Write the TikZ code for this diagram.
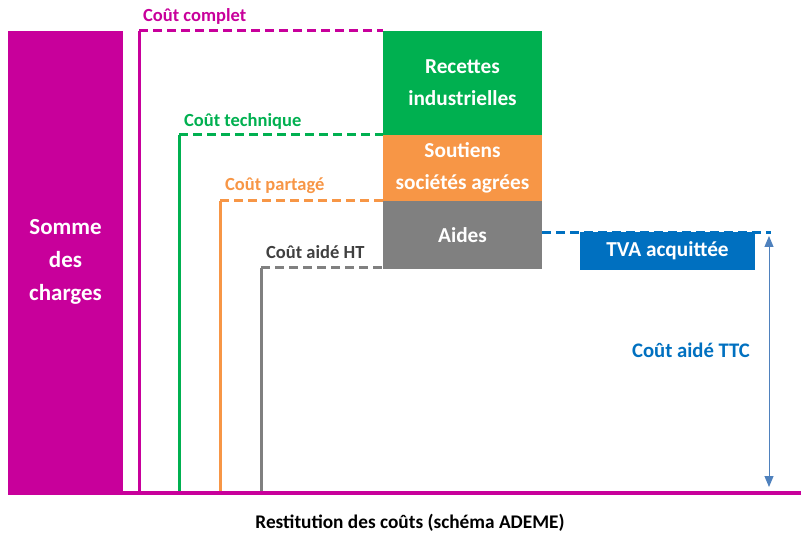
\documentclass[tikz,border=0pt]{standalone}
\usepackage{fontspec}
\setmainfont{Carlito}
\usepackage{tikz}
\usetikzlibrary{positioning}
\usetikzlibrary{arrows.meta}

\definecolor{magentaA}{HTML}{C8009B}
\definecolor{greenA}{HTML}{00B050}
\definecolor{orangeA}{HTML}{F79646}
\definecolor{grayA}{HTML}{808080}
\definecolor{blueA}{HTML}{0070C0}
\definecolor{arrowB}{HTML}{4F81BD}
\definecolor{darkA}{HTML}{404040}

\tikzset{
  costbox/.style={anchor=north west, inner sep=0pt, outer sep=0pt, text=white,
    align=center, font=\bfseries\fontsize{21.3}{32}\selectfont},
  costline/.style={line width=3pt},
  costdash/.style={line width=3pt, dash pattern=on 9pt off 5pt},
  costlabel/.style={anchor=west, inner sep=0pt, font=\bfseries\fontsize{18.5}{20}\selectfont}
}

\begin{document}
\begin{tikzpicture}[x=1pt, y=-1pt]
\useasboundingbox (0,0) rectangle (801,537);

% somme des charges
\node[costbox, fill=magentaA, minimum width=115pt, minimum height=462pt,
  font=\bfseries\fontsize{23}{33}\selectfont] (somme) at (8,31) {Somme\\des\\charges};

% boites empilees
\node[costbox, fill=greenA, minimum width=159pt, minimum height=104pt] (recettes) at (383,31)
  {Recettes\\industrielles};
\node[costbox, fill=orangeA, minimum width=159pt, minimum height=66pt] (soutiens) at (383,135)
  {Soutiens\\sociétés agrées};
\node[costbox, fill=grayA, minimum width=159pt, minimum height=68pt] (aides) at (383,201)
  {Aides};
\node[costbox, fill=blueA, minimum width=175pt, minimum height=38pt] (tva) at (580,232)
  {TVA acquittée};

% axe
\coordinate (axeA) at (8,492.5);
\coordinate (axeB) at (801,492.5);

% niveaux de cout
\coordinate (complet) at (139,31);
\coordinate (technique) at (179,135);
\coordinate (partage) at (220,201);
\coordinate (aideht) at (261,268);

\draw[costline, magentaA] (complet) -- (complet |- axeA);
\draw[costdash, magentaA] (complet) -- (recettes.north west);
\draw[costline, greenA] (technique) -- (technique |- axeA);
\draw[costdash, greenA] (technique) -- (soutiens.north west);
\draw[costline, orangeA] (partage) -- (partage |- axeA);
\draw[costdash, orangeA] (partage) -- (aides.north west);
\draw[costline, grayA] (aideht) -- (aideht |- axeA);
\draw[costdash, grayA] (aideht) -- (aideht -| aides.west);

\draw[line width=4pt, magentaA] (axeA) -- (axeB);

\node[costlabel, text=magentaA] (lcomplet) at (143,16) {Coût complet};
\node[costlabel, text=greenA] (ltechnique) at (184,121) {Coût technique};
\node[costlabel, text=orangeA] (lpartage) at (225,186) {Coût partagé};
\node[costlabel, text=darkA] (laideht) at (266,252) {Coût aidé HT};

% TVA et TTC
\coordinate (tvaA) at (542,233);
\coordinate (tvaB) at (771,233);
\draw[costdash, blueA] (tvaA) -- (tvaB);

\coordinate (ttcA) at (769,236);
\coordinate (ttcB) at (769,487);
\draw[arrowB, line width=1pt, {Triangle[length=11pt,width=9pt]}-{Triangle[length=11pt,width=9pt]}] (ttcA) -- (ttcB);

\node[font=\bfseries\fontsize{20.7}{22}\selectfont, text=blueA] (lttc) at (691,350) {Coût aidé TTC};

\node[font=\bfseries\fontsize{19.3}{21}\selectfont] (titre) at (410,523) {Restitution des coûts (schéma ADEME)};

\end{tikzpicture}
\end{document}
